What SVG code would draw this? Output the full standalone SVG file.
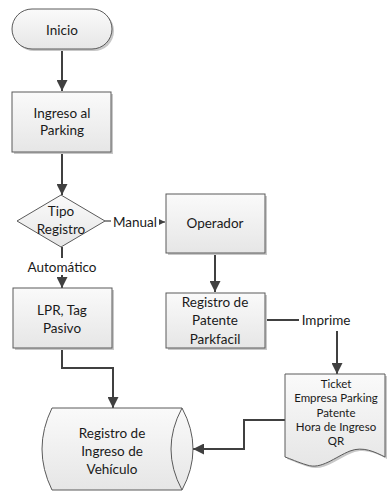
<svg xmlns="http://www.w3.org/2000/svg" width="387" height="492" viewBox="0 0 387 492">
<style>
.shape{fill:url(#g);stroke:#5a5a5a;stroke-width:1}
.shadow{fill:#c8c8c8;stroke:none}
.t{font-family:Lato,"Liberation Sans",sans-serif;font-size:13.5px;fill:#1a1a1a;text-anchor:middle}
.s{font-size:11.5px}
.c{fill:none;stroke:#404040;stroke-width:2}
</style>
<defs>
<linearGradient id="g" x1="0" y1="0" x2="0" y2="1">
<stop offset="0" stop-color="#fafafa"/>
<stop offset="1" stop-color="#e6e6e6"/>
</linearGradient>
<marker id="a" viewBox="0 0 10 10" refX="10" refY="5" markerWidth="11" markerHeight="11" markerUnits="userSpaceOnUse" orient="auto">
<path d="M0,0 L10,5 L0,10 Z" fill="#404040"/>
</marker>
<marker id="as" viewBox="0 0 10 10" refX="10" refY="5" markerWidth="6" markerHeight="6" markerUnits="userSpaceOnUse" orient="auto">
<path d="M0,0 L10,5 L0,10 Z" fill="#404040"/>
</marker>
</defs>
<rect width="387" height="492" fill="#fff"/>

<g id="connectors">
<line class="c" x1="62" y1="50" x2="62" y2="91" marker-end="url(#a)"/>
<line class="c" x1="62" y1="153" x2="62" y2="195" marker-end="url(#a)"/>
<line class="c" x1="105" y1="221" x2="111" y2="221" style="stroke-width:1.2"/>
<line class="c" x1="159" y1="222" x2="165" y2="222" style="stroke-width:1.2" marker-end="url(#as)"/>
<line class="c" x1="62" y1="247" x2="62" y2="258"/>
<line class="c" x1="62" y1="275" x2="62" y2="288" marker-end="url(#a)"/>
<line class="c" x1="215" y1="254" x2="215" y2="292" marker-end="url(#a)"/>
<line class="c" x1="266" y1="320" x2="299" y2="320"/>
<line class="c" x1="337" y1="331" x2="337" y2="374" marker-end="url(#a)"/>
<polyline class="c" points="62,349 62,368 113,368 113,408" marker-end="url(#a)"/>
<polyline class="c" points="285,420 244,420 244,449 193,449" marker-end="url(#a)"/>
</g>

<g id="inicio">
<rect class="shadow" x="14" y="11" width="100" height="40" rx="20"/>
<rect class="shape" x="12" y="9" width="100" height="40" rx="20"/>
<text class="t" x="62" y="35">Inicio</text>
</g>

<g id="ingreso">
<rect class="shadow" x="14" y="94" width="99" height="60"/>
<rect class="shape" x="12" y="92" width="99" height="60"/>
<text class="t" x="62" y="118">Ingreso al</text>
<text class="t" x="62" y="135">Parking</text>
</g>

<g id="tipo">
<path class="shape" d="M61,195 L105,221 L61,247 L17,221 Z"/>
<text class="t" x="61" y="216">Tipo</text>
<text class="t" x="61" y="234">Registro</text>
</g>
<text class="t" x="135" y="227">Manual</text>
<text class="t" x="62" y="272">Automático</text>

<g id="operador">
<rect class="shadow" x="168" y="196" width="99" height="59"/>
<rect class="shape" x="166" y="194" width="99" height="59"/>
<text class="t" x="215" y="228">Operador</text>
</g>

<g id="registroPatente">
<rect class="shadow" x="168" y="295" width="99" height="55"/>
<rect class="shape" x="166" y="293" width="99" height="55"/>
<text class="t" x="215" y="307">Registro de</text>
<text class="t" x="215" y="325">Patente</text>
<text class="t" x="215" y="344">Parkfacil</text>
</g>
<text class="t" x="326" y="325">Imprime</text>

<g id="lpr">
<rect class="shadow" x="15" y="290" width="99" height="60"/>
<rect class="shape" x="13" y="288" width="99" height="60"/>
<text class="t" x="62" y="315">LPR, Tag</text>
<text class="t" x="62" y="333">Pasivo</text>
</g>

<g id="ticket">
<path class="shadow" d="M287,376 H387 V459 C377,454 365,448 352,453 C337,459 323,472 309,467 C299,464 293,461 287,459 Z"/>
<path class="shape" d="M285,374 H385 V457 C375,452 363,446 350,451 C335,457 321,470 307,465 C297,462 291,459 285,457 Z"/>
<text class="t s" x="336" y="388">Ticket</text>
<text class="t s" x="336" y="402">Empresa Parking</text>
<text class="t s" x="336" y="416.5">Patente</text>
<text class="t s" x="336" y="430.5">Hora de Ingreso</text>
<text class="t s" x="336" y="445">QR</text>
</g>

<g id="registroIngreso">
<path class="shape" d="M52,408 H182 Q204,449 182,490 H52 Q32,449 52,408 Z"/>
<path class="shape" style="fill:none" d="M182,408 Q160,449 182,490"/>
<text class="t" x="112" y="438">Registro de</text>
<text class="t" x="112" y="456">Ingreso de</text>
<text class="t" x="112" y="474">Vehículo</text>
</g>
</svg>
